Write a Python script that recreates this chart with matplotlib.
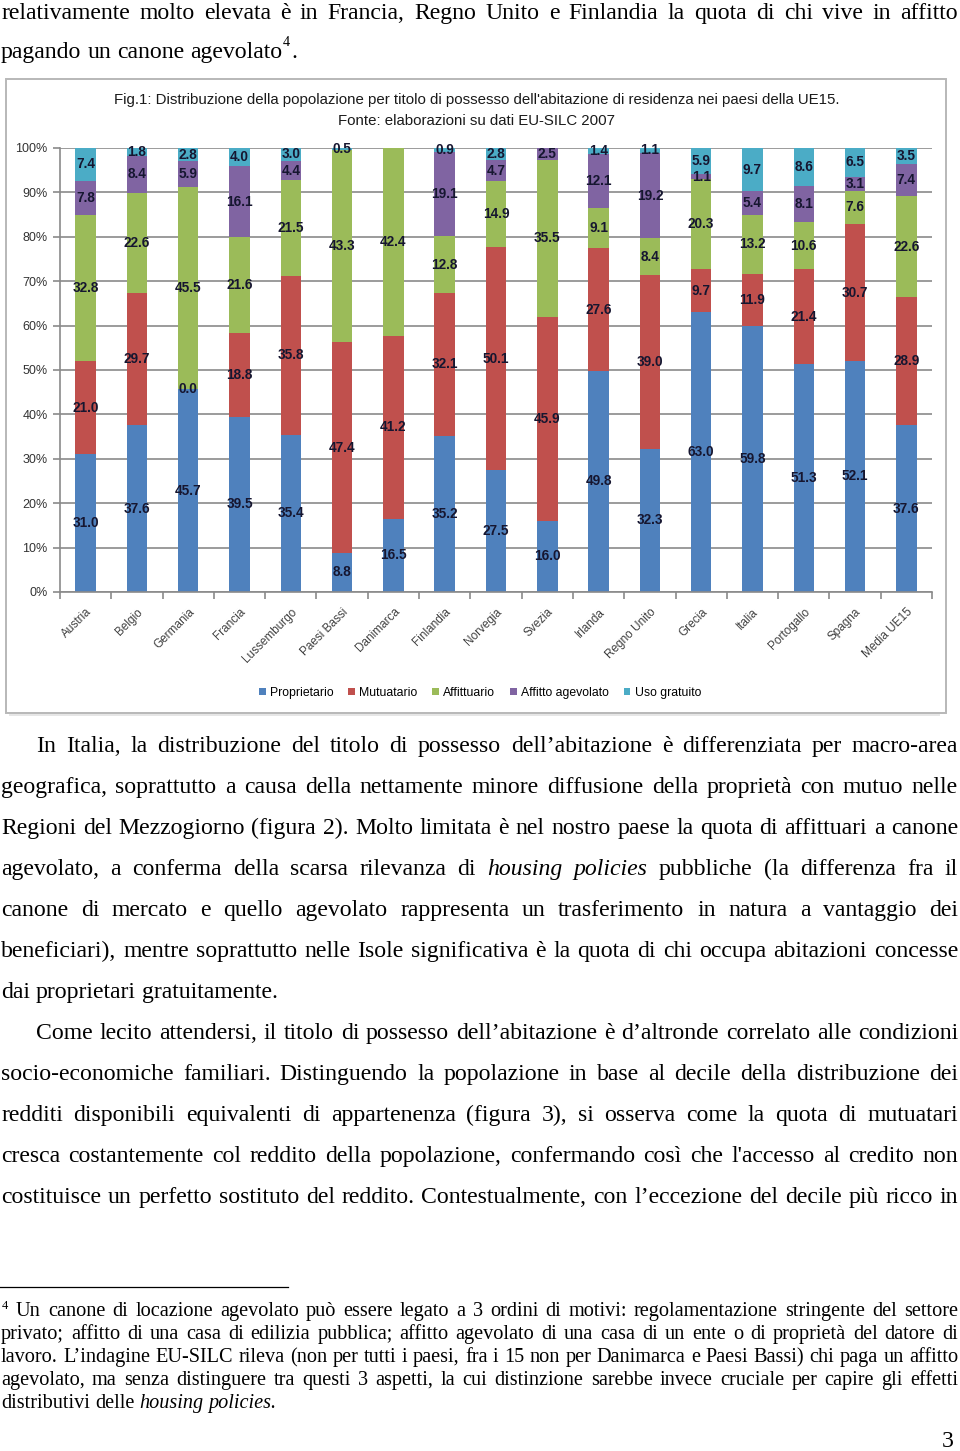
import matplotlib
matplotlib.use("Agg")
import matplotlib.pyplot as plt
import numpy as np
from matplotlib import font_manager as fm
from matplotlib.patches import Rectangle, Patch

nan = np.nan

# ---------------- data ----------------
countries = ["Austria", "Belgio", "Germania", "Francia", "Lussemburgo", "Paesi Bassi",
             "Danimarca", "Finlandia", "Norvegia", "Svezia", "Irlanda", "Regno Unito",
             "Grecia", "Italia", "Portogallo", "Spagna", "Media UE15"]
proprietario = [31.0, 37.6, 45.7, 39.5, 35.4, 8.8, 16.5, 35.2, 27.5, 16.0, 49.8, 32.3,
                63.0, 59.8, 51.3, 52.1, 37.6]
mutuatario = [21.0, 29.7, 0.0, 18.8, 35.8, 47.4, 41.2, 32.1, 50.1, 45.9, 27.6, 39.0,
              9.7, 11.9, 21.4, 30.7, 28.9]
affittuario = [32.8, 22.6, 45.5, 21.6, 21.5, 43.3, 42.4, 12.8, 14.9, 35.5, 9.1, 8.4,
               20.3, 13.2, 10.6, 7.6, 22.6]
affitto_agevolato = [7.8, 8.4, 5.9, 16.1, 4.4, nan, nan, 19.1, 4.7, 2.5, 12.1, 19.2,
                     1.1, 5.4, 8.1, 3.1, 7.4]
uso_gratuito = [7.4, 1.8, 2.8, 4.0, 3.0, 0.5, nan, 0.9, 2.8, nan, 1.4, 1.1,
                5.9, 9.7, 8.6, 6.5, 3.5]
series_names = ["Proprietario", "Mutuatario", "Affittuario", "Affitto agevolato", "Uso gratuito"]
y_ticks = [0, 10, 20, 30, 40, 50, 60, 70, 80, 90, 100]

chart_title = ("Fig.1: Distribuzione della popolazione per titolo di possesso dell'abitazione "
               "di residenza nei paesi della UE15.")
chart_source = "Fonte: elaborazioni su dati EU-SILC 2007"

top_line1 = "relativamente molto elevata è in Francia, Regno Unito e Finlandia la quota di chi vive in affitto"
top_line2 = "pagando un canone agevolato"

para_lines = [
    "In Italia, la distribuzione del titolo di possesso dell’abitazione è differenziata per macro-area",
    "geografica, soprattutto a causa della nettamente minore diffusione della proprietà con mutuo nelle",
    "Regioni del Mezzogiorno (figura 2). Molto limitata è nel nostro paese la quota di affittuari a canone",
    "agevolato, a conferma della scarsa rilevanza di _housing _policies pubbliche (la differenza fra il",
    "canone di mercato e quello agevolato rappresenta un trasferimento in natura a vantaggio dei",
    "beneficiari), mentre soprattutto nelle Isole significativa è la quota di chi occupa abitazioni concesse",
    "dai proprietari gratuitamente.",
    "Come lecito attendersi, il titolo di possesso dell’abitazione è d’altronde correlato alle condizioni",
    "socio-economiche familiari. Distinguendo la popolazione in base al decile della distribuzione dei",
    "redditi disponibili equivalenti di appartenenza (figura 3), si osserva come la quota di mutuatari",
    "cresca costantemente col reddito della popolazione, confermando così che l'accesso al credito non",
    "costituisce un perfetto sostituto del reddito. Contestualmente, con l’eccezione del decile più ricco in",
]
para_indent = [True, False, False, False, False, False, False, True, False, False, False, False]
para_last = [False, False, False, False, False, False, True, False, False, False, False, False]

foot_lines = [
    "Un canone di locazione agevolato può essere legato a 3 ordini di motivi: regolamentazione stringente del settore",
    "privato; affitto di una casa di edilizia pubblica; affitto agevolato di una casa di un ente o di proprietà del datore di",
    "lavoro. L’indagine EU-SILC rileva (non per tutti i paesi, fra i 15 non per Danimarca e Paesi Bassi) chi paga un affitto",
    "agevolato, ma senza distinguere tra questi 3 aspetti, la cui distinzione sarebbe invece cruciale per capire gli effetti",
    "distributivi delle _housing _policies.",
]

# ---------------- setup ----------------
W, H = 960, 1451
fig = plt.figure(figsize=(W / 100, H / 100), dpi=100)
fig.patch.set_facecolor("white")


def fx(x):
    return x / W


def fy(y):
    return 1 - y / H


avail = {f.name for f in fm.fontManager.ttflist}
NARROW = "Liberation Sans Narrow" if "Liberation Sans Narrow" in avail else "Liberation Sans"
SANS = "Liberation Sans"
SERIF = "Liberation Serif"

renderer = fig.canvas.get_renderer()


def split_words(line):
    out = []
    for w in line.split(" "):
        if w.startswith("_"):
            out.append((w[1:], "italic"))
        else:
            out.append((w, "normal"))
    return out


def words_width(line, size):
    tot = 0
    for w, st in split_words(line):
        t = fig.text(0, 0, w, fontsize=size, family=SERIF, style=st)
        tot += t.get_window_extent(renderer).width
        t.remove()
    return tot


def fit_size(lines, x0s, x1, min_gap_em=0.27):
    best = 100
    for line, x0 in zip(lines, x0s):
        n = len(line.split(" "))
        per_pt = words_width(line, 10) / 10.0
        s = (x1 - x0) / (per_pt + (n - 1) * min_gap_em * 100 / 72)
        best = min(best, s)
    return best


def draw_line(line, y, x0, x1, size, justify=True):
    texts = []
    for w, st in split_words(line):
        t = fig.text(0, fy(y), w, fontsize=size, family=SERIF, style=st,
                     va="baseline", ha="left", color="black")
        texts.append(t)
    widths = [t.get_window_extent(renderer).width for t in texts]
    if justify and len(texts) > 1:
        gap = (x1 - x0 - sum(widths)) / (len(texts) - 1)
    else:
        gap = size * 100 / 72 * 0.25
    x = x0
    for t, w in zip(texts, widths):
        t.set_x(fx(x))
        x += w + gap
    return x - gap


just_body = [top_line1] + [l for l, last in zip(para_lines, para_last) if not last]
just_x0 = [1] + [36 if ind else 1 for ind, last in zip(para_indent, para_last) if not last]
BODY = fit_size(just_body, just_x0, 958)
FOOT = fit_size(foot_lines[:-1], [16, 1, 1, 1], 958)

# ---------------- top text ----------------
draw_line(top_line1, 19, 1, 958, BODY)
xe = draw_line(top_line2, 58, 1, 958, BODY, justify=False)
fig.text(fx(xe + 1), fy(46), "4", fontsize=BODY * 0.6, family=SERIF, va="baseline", ha="left")
fig.text(fx(xe + 9), fy(58), ".", fontsize=BODY, family=SERIF, va="baseline", ha="left")

# ---------------- paragraph ----------------
for i, line in enumerate(para_lines):
    y = 752 + 41 * i
    x0 = 36 if para_indent[i] else 1
    draw_line(line, y, x0, 958, BODY, justify=not para_last[i])

# ---------------- footnote ----------------
fig.add_artist(plt.Line2D([fx(0), fx(288)], [fy(1287), fy(1287)], color="black", lw=0.9))
fig.text(fx(2), fy(1309), "4", fontsize=FOOT * 0.62, family=SERIF, va="baseline", ha="left")
for i, line in enumerate(foot_lines):
    y = 1316 + 23 * i
    x0 = 16 if i == 0 else 1
    draw_line(line, y, x0, 958, FOOT, justify=(i < len(foot_lines) - 1))

fig.text(fx(954), fy(1447), "3", fontsize=BODY, family=SERIF, va="baseline", ha="right")

# ---------------- chart frame ----------------
fig.add_artist(Rectangle((fx(9), fy(716)), fx(940) - fx(9), fy(82) - fy(716),
                         facecolor="#e6e6e6", edgecolor="none", zorder=-3))
fig.add_artist(Rectangle((fx(6), fy(713)), fx(946) - fx(6), fy(79) - fy(713),
                         facecolor="white", edgecolor="#b8b8b8", lw=1.4, zorder=-2))

fig.text(fx(477), fy(100), chart_title, fontsize=10.8, family=NARROW, ha="center", va="center",
         color="#1a1a1a")
fig.text(fx(476), fy(121), chart_source, fontsize=10.8, family=NARROW, ha="center", va="center",
         color="#1a1a1a")

# ---------------- axes ----------------
ax_left, ax_right, ax_top, ax_bot = 60, 932, 148, 592
ax = fig.add_axes([fx(ax_left), fy(ax_bot), (ax_right - ax_left) / W, (ax_bot - ax_top) / H])
ax.set_facecolor("none")
ax.set_zorder(1)

colors = ["#4F81BD", "#C0504D", "#9BBB59", "#8064A2", "#4BACC6"]
series = [proprietario, mutuatario, affittuario, affitto_agevolato, uso_gratuito]
x = np.arange(len(countries))
bottom = np.zeros(len(countries))
for vals, col, name in zip(series, colors, series_names):
    v = np.array(vals, dtype=float)
    h = np.nan_to_num(v)
    ax.bar(x, h, 0.4, bottom=bottom, color=col, label=name, zorder=2, linewidth=0)
    for i in range(len(countries)):
        if not np.isnan(v[i]):
            ax.text(x[i], bottom[i] + h[i] / 2, f"{v[i]:.1f}", ha="center", va="center",
                    fontsize=9.8, fontweight="bold", family=SANS, color="#161630", zorder=3)
    bottom = bottom + h

ax.set_xlim(-0.5, len(countries) - 0.5)
ax.set_ylim(0, 100)
ax.set_yticks(y_ticks)
ax.set_yticklabels([f"{t}%" for t in y_ticks], fontsize=9, family=SANS, color="#333333")
ax.tick_params(axis="y", length=5, color="#8a8a8a", width=1.2, pad=4)
ax.yaxis.grid(True, color="#8a8a8a", lw=1.2, zorder=1)
ax.set_axisbelow(True)

ax.set_xticks(x)
ax.set_xticklabels(countries, rotation=45, ha="right", va="top", rotation_mode="anchor",
                   fontsize=8.5, family=SANS, color="#404040")
ax.tick_params(axis="x", length=0, pad=10)
ax.set_xticks(np.arange(-0.5, len(countries)), minor=True)
ax.tick_params(axis="x", which="minor", length=5, color="#8a8a8a", width=1.2)

for s in ["top", "right"]:
    ax.spines[s].set_visible(False)
for s in ["left", "bottom"]:
    ax.spines[s].set_color("#8a8a8a")
    ax.spines[s].set_linewidth(1.2)

handles = [Patch(facecolor=c, edgecolor="none") for c in colors]
fig.legend(handles, series_names, loc="center", bbox_to_anchor=(fx(480), fy(693)), ncol=5,
           frameon=False, handlelength=0.55, handleheight=0.55, handletextpad=0.35,
           columnspacing=1.2, prop={"family": NARROW, "size": 8.8})

fig.savefig("out.png", dpi=100, facecolor="white")
